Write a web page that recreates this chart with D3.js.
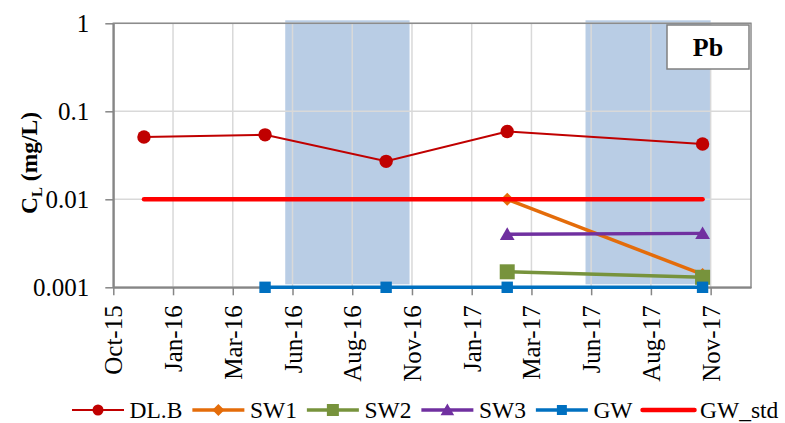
<!DOCTYPE html>
<html><head><meta charset="utf-8">
<script src="https://cdnjs.cloudflare.com/ajax/libs/d3/7.8.5/d3.min.js"></script>
<style>
html,body{margin:0;padding:0;background:#fff;}
svg{display:block;font-family:"Liberation Serif","Times New Roman",serif;}
</style></head>
<body>
<svg id="chart" width="785" height="423"></svg>
<script>
// ---- data ----
const tickDates = ["2015-10-29","2016-01-11","2016-03-25","2016-06-07","2016-08-20","2016-11-02","2017-01-15","2017-03-30","2017-06-12","2017-08-25","2017-11-07"];
const tickLabels = ["Oct-15","Jan-16","Mar-16","Jun-16","Aug-16","Nov-16","Jan-17","Mar-17","Jun-17","Aug-17","Nov-17"];
const axisEndDate = "2017-12-27";
const yTicks = [0.001, 0.01, 0.1, 1];
const yTickLabels = ["0.001","0.01","0.1","1"];
const shadedPeriods = [["2016-05-29","2016-10-30"],["2017-06-05","2017-11-07"]];

const datesDLB = ["2015-12-06","2016-05-04","2016-10-01","2017-02-28","2017-10-28"];
const valuesDLB = [0.051, 0.054, 0.027, 0.059, 0.0425];
const datesSW = ["2017-02-28","2017-10-28"];
const valuesSW1 = [0.010, 0.0014];
const valuesSW2 = [0.0015, 0.0013];
const valuesSW3 = [0.0040, 0.0041];
const datesGW = ["2016-05-04","2016-10-01","2017-02-28","2017-10-28"];
const valuesGW = [0.001, 0.001, 0.001, 0.001];
const datesStd = ["2015-12-06","2017-10-28"];
const valuesStd = [0.01, 0.01];
const seriesNames = ["DL.B","SW1","SW2","SW3","GW","GW_std"];
const panelLabel = "Pb";

// ---- layout ----
const L = 113.3, R = 751, T = 23.3, B = 287.3;
const FONT = "Liberation Serif";
const parse = d3.utcParse("%Y-%m-%d");
const svg = d3.select("#chart");

const x = d3.scaleUtc().domain([parse(tickDates[0]), parse(axisEndDate)]).range([L, R]);
const y = d3.scaleLog().domain([0.001, 1]).range([B, T]);

// shading
svg.append("g").selectAll("rect").data(shadedPeriods).join("rect")
  .attr("x", d => x(parse(d[0]))).attr("width", d => x(parse(d[1])) - x(parse(d[0])))
  .attr("y", T - 3).attr("height", B - T)
  .attr("fill", "#B9CDE5");

// gridlines
const grid = svg.append("g");
grid.selectAll("line.v").data(tickDates).join("line").attr("class","v")
  .attr("x1", d => x(parse(d))).attr("x2", d => x(parse(d)))
  .attr("y1", T).attr("y2", B).attr("stroke", "#D9D9D9").attr("stroke-width", 1.5);
grid.selectAll("line.h").data(yTicks).join("line").attr("class","h")
  .attr("x1", L).attr("x2", R).attr("y1", d => y(d)).attr("y2", d => y(d))
  .attr("stroke", "#D9D9D9").attr("stroke-width", 1.5);

// frame
svg.append("rect").attr("x", L).attr("y", T).attr("width", R - L).attr("height", B - T)
  .attr("fill", "none").attr("stroke", "#8C8C8C").attr("stroke-width", 1.5);

// axes
const xAxis = d3.axisBottom(x).tickValues(tickDates.map(parse))
  .tickFormat((d, i) => tickLabels[i]).tickSize(8).tickSizeOuter(0);
const gx = svg.append("g").attr("transform", `translate(0,${B})`).call(xAxis);
gx.attr("font-family", FONT);
gx.select(".domain").attr("stroke", "#868686").attr("stroke-width", 2);
gx.selectAll(".tick line").attr("stroke", "#868686").attr("stroke-width", 1.5);
gx.selectAll(".tick text")
  .attr("font-family", FONT).attr("font-size", 25).attr("fill", "#000")
  .attr("text-anchor", "end").attr("dy", null).attr("y", null)
  .attr("dominant-baseline", "central")
  .attr("transform", "translate(0,18) rotate(-90)");

const yAxis = d3.axisLeft(y).tickValues(yTicks).tickFormat((d, i) => yTickLabels[i])
  .tickSize(8).tickSizeOuter(0);
const gy = svg.append("g").attr("transform", `translate(${L},0)`).call(yAxis);
gy.attr("font-family", FONT);
gy.select(".domain").attr("stroke", "#868686").attr("stroke-width", 2);
gy.selectAll(".tick line").attr("stroke", "#868686").attr("stroke-width", 1.5);
gy.selectAll(".tick text").attr("font-family", FONT).attr("font-size", 25)
  .attr("fill", "#000").attr("x", -24).attr("dy", null).attr("dominant-baseline", "central");

// y title
const yt = svg.append("text").attr("transform", "translate(37,163) rotate(-90)")
  .attr("text-anchor", "middle").attr("font-weight", "bold").attr("font-size", 23.5);
yt.append("tspan").text("C");
yt.append("tspan").text("L").attr("font-size", 15).attr("dy", 5);
yt.append("tspan").text(" (mg/L)").attr("dy", -5);

// marker shapes
function markerPath(type, s) {
  if (type === "circle") return d3.symbol(d3.symbolCircle, Math.PI * s * s)();
  if (type === "diamond") return `M0,${-s}L${s},0L0,${s}L${-s},0Z`;
  if (type === "square") return `M${-s},${-s}H${s}V${s}H${-s}Z`;
  if (type === "triangle") return `M0,${-s}L${s*1.05},${s*0.8}L${-s*1.05},${s*0.8}Z`;
  return null;
}

const series = [
  {name: seriesNames[0], dates: datesDLB, values: valuesDLB, color: "#C00000", lw: 2, marker: "circle", ms: 6.7, lms: 5.5},
  {name: seriesNames[1], dates: datesSW, values: valuesSW1, color: "#E46C0A", lw: 3.5, marker: "diamond", ms: 6.5, lms: 6},
  {name: seriesNames[2], dates: datesSW, values: valuesSW2, color: "#77933C", lw: 3.5, marker: "square", ms: 7.5, lms: 6},
  {name: seriesNames[3], dates: datesSW, values: valuesSW3, color: "#7030A0", lw: 3.5, marker: "triangle", ms: 7, lms: 6.5},
  {name: seriesNames[4], dates: datesGW, values: valuesGW, color: "#0070C0", lw: 3.5, marker: "square", ms: 5.7, lms: 5},
  {name: seriesNames[5], dates: datesStd, values: valuesStd, color: "#FF0000", lw: 4.5, marker: null, ms: 0, lms: 0}
];

const line = d3.line().x(d => x(d.date)).y(d => y(d.v));
series.forEach(s => {
  const pts = s.dates.map((d, i) => ({date: parse(d), v: s.values[i]}));
  const g = svg.append("g");
  g.append("path").datum(pts).attr("d", line).attr("fill", "none")
    .attr("stroke", s.color).attr("stroke-width", s.lw)
    .attr("stroke-linecap", s.marker ? "butt" : "round");
  if (s.marker) {
    g.selectAll("path.m").data(pts).join("path").attr("class", "m")
      .attr("transform", d => `translate(${x(d.date)},${y(d.v)})`)
      .attr("d", markerPath(s.marker, s.ms)).attr("fill", s.color);
  }
});

// panel label
svg.append("rect").attr("x", 667).attr("y", 25).attr("width", 82).attr("height", 44)
  .attr("fill", "#fff").attr("stroke", "#808080").attr("stroke-width", 1.5);
svg.append("text").attr("x", 708).attr("y", 47).attr("text-anchor", "middle")
  .attr("dominant-baseline", "central").attr("font-weight", "bold").attr("font-size", 26)
  .text(panelLabel);

// legend
const leg = svg.append("g");
let cx = 72;
const ly = 410;
series.forEach(s => {
  const g = leg.append("g");
  g.append("line").attr("x1", cx).attr("x2", cx + 52).attr("y1", ly).attr("y2", ly)
    .attr("stroke", s.color).attr("stroke-width", s.lw)
    .attr("stroke-linecap", s.marker ? "butt" : "round");
  if (s.marker) g.append("path").attr("transform", `translate(${cx + 26},${ly})`)
    .attr("d", markerPath(s.marker, s.lms)).attr("fill", s.color);
  const t = g.append("text").attr("x", cx + 57.5).attr("y", ly).attr("dominant-baseline", "central")
    .attr("font-size", 23.5).text(s.name);
  cx += 57.5 + t.node().getComputedTextLength() + 10;
});
</script>
</body></html>
